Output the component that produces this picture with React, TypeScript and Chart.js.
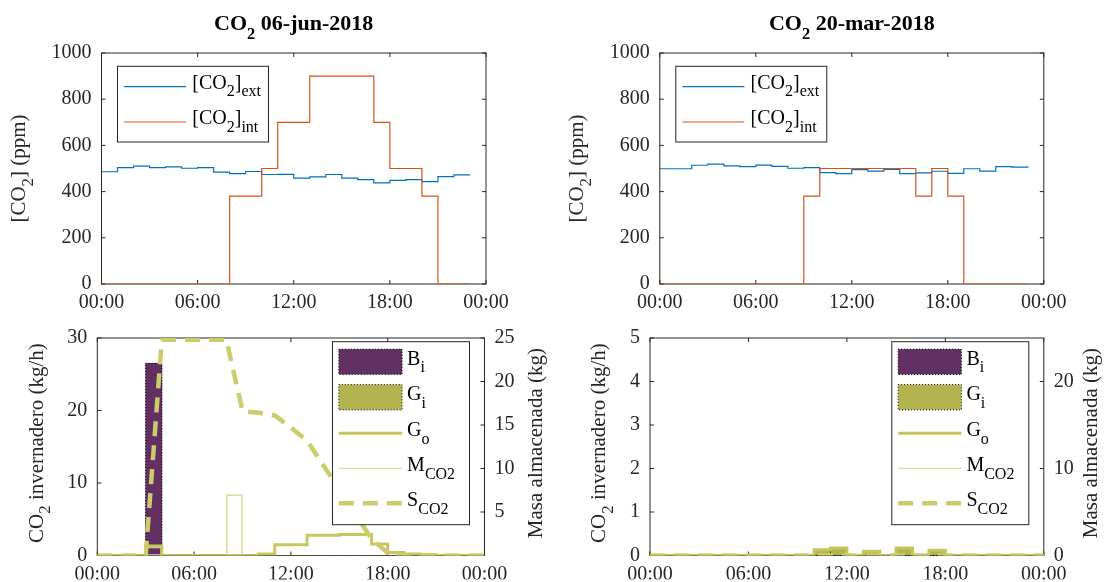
import React, { useEffect, useRef } from 'react';
import { Chart, registerables } from 'chart.js';

Chart.register(...registerables);

// ---------------- data ----------------
const hoursTop = [0, 1, 2, 3, 4, 5, 6, 7, 8, 9, 10, 11, 12, 13, 14, 15, 16, 17, 18, 19, 20, 21, 22, 23];
const hoursBottom = [0, 1, 2, 3, 4, 5, 6, 7, 8, 9, 10, 11, 12, 13, 14, 15, 16, 17, 18, 19, 20, 21, 22, 23, 24];
const timeTicks = [0, 6, 12, 18, 24];
const timeLabels = ['00:00', '06:00', '12:00', '18:00', '00:00'];
const ppmTicks = [0, 200, 400, 600, 800, 1000];

const co2ExtJun = [486, 504, 510, 504, 507, 501, 504, 484, 478, 487, 474, 475, 458, 464, 474, 458, 452, 438, 449, 452, 443, 465, 472, 472];
const co2IntJun = [0, 0, 0, 0, 0, 0, 0, 0, 380, 380, 500, 700, 700, 900, 900, 900, 900, 700, 500, 500, 380, 0, 0, 0];
const co2ExtMar = [499, 499, 514, 519, 511, 508, 515, 509, 501, 504, 482, 478, 495, 489, 496, 478, 481, 488, 479, 499, 489, 508, 506, 510];
const co2IntMar = [0, 0, 0, 0, 0, 0, 0, 0, 0, 380, 500, 500, 500, 500, 500, 500, 380, 500, 380, 0, 0, 0, 0, 0];

const flowTicksJun = [0, 10, 20, 30];
const massTicksJun = [5, 10, 15, 20, 25];
const biJun = [0, 0, 0, 26.5, 0, 0, 0, 0, 0, 0, 0, 0, 0, 0, 0, 0, 0, 0, 0, 0, 0, 0, 0, 0];
const giJun = [0, 0, 0, 0, 0, 0, 0, 0, 0, 0, 0, 0, 0, 0, 0, 0, 0, 0, 0, 0, 0, 0, 0, 0];
const mJun = [0, 0, 0, 1.2, 0, 0, 0, 0, 8.4, 0, 0, 0, 0, 0, 0, 0, 0, 0, 0, 0, 0, 0, 0, 0];
const goJun = [0, 0, 0, 1.3, 0, 0, 0, 0, 0, 0, 0.2, 1.5, 1.5, 2.8, 2.8, 2.9, 2.9, 1.6, 0.4, 0.2, 0.1, 0, 0, 0, 0];
const sJun = [0, 0, 0, 0, 24.8, 24.8, 24.8, 24.8, 24.8, 16.6, 16.4, 16.1, 14.7, 13.2, 10.4, 7.6, 4.7, 1.9, 0.3, 0, 0, 0, 0, 0, 0];

const flowTicksMar = [0, 1, 2, 3, 4, 5];
const massTicksMar = [0, 10, 20];
const biMar = [0, 0, 0, 0, 0, 0, 0, 0, 0, 0, 0, 0, 0, 0, 0, 0, 0, 0, 0, 0, 0, 0, 0, 0];
const giMar = [0, 0, 0, 0, 0, 0, 0, 0, 0, 0, 0.13, 0.17, 0, 0.1, 0, 0.17, 0, 0.12, 0, 0, 0, 0, 0, 0];
const mMar = [0, 0, 0, 0, 0, 0, 0, 0, 0, 0, 0, 0, 0, 0, 0, 0, 0, 0, 0, 0, 0, 0, 0, 0];
const goMar = [0, 0, 0, 0, 0, 0, 0, 0, 0, 0, 0.13, 0.17, 0, 0.1, 0, 0.17, 0, 0.12, 0, 0, 0, 0, 0, 0, 0];
const sMar = [0, 0, 0, 0, 0, 0, 0, 0, 0, 0, 0, 0, 0, 0, 0, 0, 0, 0, 0, 0, 0, 0, 0, 0, 0];

// ---------------- styles ----------------
const FONT = '"Liberation Serif", "Times New Roman", serif';
const AX = '#262626';
const BLUE = '#0072BD';
const ORANGE = '#D95319';
const PURPLE = '#623062';
const OLIVE_FILL = '#b3b34f';
const OLIVE_LINE = '#c6c65e';
const OLIVE_DASH = '#cccc6c';
const OLIVE_THIN = '#dcdca2';
const TICK = 4;
const YW = 60;
const Y2W = 40;
const XH = 24;

type Seg = { t: string; s?: number };

function fontStr(size: number, bold: boolean) {
  return `${bold ? 'bold ' : ''}${size}px ${FONT}`;
}
function measureRich(ctx: any, segs: Seg[], size: number, bold: boolean, subRatio: number) {
  let w = 0;
  for (const sg of segs) {
    ctx.font = fontStr(sg.s ? size * subRatio : size, bold);
    w += ctx.measureText(sg.t).width;
  }
  return w;
}
function drawRich(ctx: any, segs: Seg[], x: number, y: number, size: number, opt: any) {
  const bold = !!opt.bold;
  const subRatio = opt.subRatio ?? 0.8;
  const drop = opt.drop ?? 0.38;
  let cx = x;
  if (opt.align === 'center') cx -= measureRich(ctx, segs, size, bold, subRatio) / 2;
  ctx.fillStyle = opt.color || '#000';
  ctx.textBaseline = 'alphabetic';
  ctx.textAlign = 'left';
  for (const sg of segs) {
    const fs = sg.s ? size * subRatio : size;
    ctx.font = fontStr(fs, bold);
    ctx.fillText(sg.t, cx, y + (sg.s ? size * drop : 0));
    cx += ctx.measureText(sg.t).width;
  }
}

function makeDeco(spec: any) {
  return {
    id: 'deco',
    beforeDatasetsDraw(chart: any) {
      const ctx = chart.ctx;
      const { left, right, top, bottom } = chart.chartArea;
      ctx.save();
      ctx.strokeStyle = AX;
      ctx.lineWidth = 1;
      ctx.strokeRect(left, top, right - left, bottom - top);
      ctx.beginPath();
      const xs = chart.scales.x;
      for (const v of timeTicks) {
        const px = xs.getPixelForValue(v);
        ctx.moveTo(px, bottom); ctx.lineTo(px, bottom - TICK);
        ctx.moveTo(px, top); ctx.lineTo(px, top + TICK);
      }
      const ys = chart.scales.y;
      for (const v of spec.yTicks) {
        const py = ys.getPixelForValue(v);
        ctx.moveTo(left, py); ctx.lineTo(left + TICK, py);
        if (!spec.y2Ticks) { ctx.moveTo(right, py); ctx.lineTo(right - TICK, py); }
      }
      if (spec.y2Ticks) {
        const y2 = chart.scales.y2;
        for (const v of spec.y2Ticks) {
          const py = y2.getPixelForValue(v);
          ctx.moveTo(right, py); ctx.lineTo(right - TICK, py);
        }
      }
      ctx.stroke();
      ctx.restore();
    },
    afterDatasetDraw(chart: any, args: any) {
      const ds = chart.data.datasets[args.index];
      if (!ds.dottedEdge) return;
      const ctx = chart.ctx;
      ctx.save();
      ctx.strokeStyle = '#000';
      ctx.lineWidth = 1;
      ctx.setLineDash([1, 2]);
      for (const el of args.meta.data) {
        const p = el.getProps(['x', 'y', 'base', 'width'], true);
        if (Math.abs(p.base - p.y) < 0.5) continue;
        ctx.strokeRect(p.x - p.width / 2, p.y, p.width, p.base - p.y);
      }
      ctx.restore();
    },
    afterDraw(chart: any) {
      const ctx = chart.ctx;
      ctx.save();
      ctx.translate(-spec.ox, -spec.oy);
      if (spec.title) drawRich(ctx, spec.title, spec.titleX, 30, 22, { bold: true, align: 'center', color: '#000', subRatio: 0.75, drop: 0.4 });
      const cyMid = (spec.area.t + spec.area.b) / 2;
      ctx.save();
      ctx.translate(spec.yTitleX, cyMid);
      ctx.rotate(-Math.PI / 2);
      drawRich(ctx, spec.yTitle, 0, 0, 21, { align: 'center', color: AX });
      ctx.restore();
      if (spec.y2Title) {
        ctx.save();
        ctx.translate(spec.y2TitleX, cyMid);
        ctx.rotate(-Math.PI / 2);
        drawRich(ctx, spec.y2Title, 0, 0, 21, { align: 'center', color: AX });
        ctx.restore();
      }
      // legend
      const lg = spec.legend;
      ctx.fillStyle = '#fff';
      ctx.fillRect(lg.x, lg.y, lg.w, lg.h);
      ctx.strokeStyle = AX;
      ctx.lineWidth = 1;
      ctx.setLineDash([]);
      ctx.strokeRect(lg.x, lg.y, lg.w, lg.h);
      lg.items.forEach((it: any, i: number) => {
        const cy = lg.y + lg.rows[i];
        const x0 = lg.x + lg.symX0;
        const x1 = lg.x + lg.symX1;
        if (it.kind === 'rect') {
          ctx.fillStyle = it.color;
          ctx.fillRect(x0, cy - 12.6, x1 - x0, 25.3);
          ctx.strokeStyle = '#000';
          ctx.lineWidth = 1;
          ctx.setLineDash([1, 2]);
          ctx.strokeRect(x0, cy - 12.6, x1 - x0, 25.3);
          ctx.setLineDash([]);
        } else {
          ctx.strokeStyle = it.color;
          ctx.lineWidth = it.width;
          ctx.setLineDash(it.dash || []);
          ctx.beginPath();
          ctx.moveTo(x0, cy);
          ctx.lineTo(x1, cy);
          ctx.stroke();
          ctx.setLineDash([]);
        }
        drawRich(ctx, it.label, lg.x + lg.textX, cy + lg.base, 20, { color: '#000' });
      });
      ctx.restore();
    },
  };
}

function xScale() {
  return {
    type: 'linear',
    min: 0,
    max: 24,
    offset: false,
    grid: { display: false, drawTicks: false },
    border: { display: false },
    ticks: {
      autoSkip: false,
      maxRotation: 0,
      padding: 7,
      color: AX,
      font: { family: FONT, size: 20 },
      callback: (v: number) => timeLabels[timeTicks.indexOf(v)] ?? '',
    },
    afterBuildTicks: (s: any) => { s.ticks = timeTicks.map((v) => ({ value: v })); },
    afterFit: (s: any) => { s.height = XH; },
  };
}

function yScale(ticks: number[], min: number, max: number, pos: string, width: number) {
  return {
    type: 'linear',
    position: pos,
    min,
    max,
    grid: { display: false, drawTicks: false },
    border: { display: false },
    ticks: {
      padding: 10,
      color: AX,
      font: { family: FONT, size: 20 },
      callback: (v: number) => String(v),
    },
    afterBuildTicks: (s: any) => { s.ticks = ticks.map((v) => ({ value: v })); },
    afterFit: (s: any) => { s.width = width; },
  };
}

function padding(spec: any, hasY2: boolean) {
  return {
    left: spec.area.l - spec.ox - YW,
    top: spec.area.t - spec.oy,
    right: spec.ox + spec.w - spec.area.r - (hasY2 ? Y2W : 0),
    bottom: spec.oy + spec.h - spec.area.b - XH,
  };
}

const extLabel: Seg[] = [{ t: '[CO' }, { t: '2', s: 1 }, { t: ']' }, { t: 'ext', s: 1 }];
const intLabel: Seg[] = [{ t: '[CO' }, { t: '2', s: 1 }, { t: ']' }, { t: 'int', s: 1 }];

function topSpec(ox: number, area: any, title: Seg[], titleX: number, yTitleX: number) {
  return {
    ox, oy: 0, w: 553, h: 316, area, title, titleX, yTitleX,
    yTitle: [{ t: '[CO' }, { t: '2', s: 1 }, { t: '] (ppm)' }],
    yTicks: ppmTicks,
    legend: {
      x: area.l + 16, y: area.t + 13.3, w: 151, h: 75.7,
      rows: [20.3, 55.7], symX0: 6.6, symX1: 68.6, textX: 74.8, base: 2,
      items: [
        { kind: 'line', color: BLUE, width: 1.2, label: extLabel },
        { kind: 'line', color: ORANGE, width: 1.2, label: intLabel },
      ],
    },
  };
}

function bottomSpec(ox: number, area: any, yTitleX: number, y2TitleX: number, yTicks: number[], y2Ticks: number[]) {
  return {
    ox, oy: 316, w: 553, h: 266, area, yTitleX, y2TitleX,
    yTitle: [{ t: 'CO' }, { t: '2', s: 1 }, { t: ' invernadero (kg/h)' }],
    y2Title: [{ t: 'Masa almacenada (kg)' }],
    yTicks, y2Ticks,
    legend: {
      x: area.r - 15 - 137, y: area.t + 11, w: 137, h: 183,
      rows: [20, 55.5, 91.6, 126.6, 161.6], symX0: 6.3, symX1: 69.6, textX: 74.6, base: 3,
      items: [
        { kind: 'rect', color: PURPLE, label: [{ t: 'B' }, { t: 'i', s: 1 }] },
        { kind: 'rect', color: OLIVE_FILL, label: [{ t: 'G' }, { t: 'i', s: 1 }] },
        { kind: 'line', color: OLIVE_LINE, width: 3, label: [{ t: 'G' }, { t: 'o', s: 1 }] },
        { kind: 'line', color: OLIVE_THIN, width: 1.2, label: [{ t: 'M' }, { t: 'CO2', s: 1 }] },
        { kind: 'line', color: OLIVE_DASH, width: 4.5, dash: [15, 9], label: [{ t: 'S' }, { t: 'CO2', s: 1 }] },
      ],
    },
  };
}

function topConfig(spec: any, ext: number[], int: number[]) {
  return {
    type: 'line',
    data: {
      datasets: [
        { label: 'ext', data: hoursTop.map((h, i) => ({ x: h, y: ext[i] })), borderColor: BLUE, borderWidth: 1.2, stepped: true, pointRadius: 0, fill: false, order: 2 },
        { label: 'int', data: hoursTop.map((h, i) => ({ x: h, y: int[i] })), borderColor: ORANGE, borderWidth: 1.2, stepped: true, pointRadius: 0, fill: false, order: 1 },
      ],
    },
    options: {
      responsive: false,
      animation: false,
      events: [],
      layout: { padding: padding(spec, false) },
      plugins: { legend: { display: false }, tooltip: { enabled: false } },
      scales: { x: xScale(), y: yScale(ppmTicks, 0, 1000, 'left', YW) },
    },
    plugins: [makeDeco(spec)],
  };
}

function bars(vals: number[]) {
  return hoursTop.map((h, i) => ({ x: h + 0.5, y: vals[i] }));
}
function pts(vals: number[]) {
  return hoursBottom.map((h, i) => ({ x: h, y: vals[i] }));
}

function bottomConfig(spec: any, bi: number[], gi: number[], m: number[], go: number[], s: number[], yMax: number) {
  const barCommon = { grouped: false, barPercentage: 1, categoryPercentage: 1, yAxisID: 'y', borderWidth: 0 };
  return {
    type: 'line',
    data: {
      datasets: [
        { ...barCommon, type: 'bar', label: 'Bi', data: bars(bi), backgroundColor: PURPLE, order: 6, dottedEdge: true },
        { ...barCommon, type: 'bar', label: 'Gi', data: bars(gi), backgroundColor: OLIVE_FILL, order: 5, dottedEdge: true },
        { ...barCommon, type: 'bar', label: 'M', data: bars(m), backgroundColor: 'rgba(0,0,0,0)', borderColor: OLIVE_THIN, borderWidth: 1, borderSkipped: false, order: 4 },
        { type: 'line', label: 'Go', data: pts(go), borderColor: OLIVE_LINE, borderWidth: 3, stepped: true, pointRadius: 0, fill: false, yAxisID: 'y', order: 3 },
        { type: 'line', label: 'S', data: pts(s), borderColor: OLIVE_DASH, borderWidth: 4.5, borderDash: [15, 9], pointRadius: 0, fill: false, yAxisID: 'y2', order: 1 },
      ],
    },
    options: {
      responsive: false,
      animation: false,
      events: [],
      layout: { padding: padding(spec, true) },
      plugins: { legend: { display: false }, tooltip: { enabled: false } },
      scales: {
        x: xScale(),
        y: yScale(spec.yTicks, 0, yMax, 'left', YW),
        y2: yScale(spec.y2Ticks, 0, 25, 'right', Y2W),
      },
    },
    plugins: [makeDeco(spec)],
  };
}

const specTL = topSpec(0, { l: 101.5, t: 53, r: 486, b: 284 }, [{ t: 'CO' }, { t: '2', s: 1 }, { t: ' 06-jun-2018' }], 293.7, 25);
const specTR = topSpec(553, { l: 659.8, t: 53, r: 1043.8, b: 284 }, [{ t: 'CO' }, { t: '2', s: 1 }, { t: ' 20-mar-2018' }], 851.8, 583);
const specBL = bottomSpec(0, { l: 97.3, t: 330.7, r: 484.5, b: 555.5 }, 42.5, 541.5, flowTicksJun, massTicksJun);
const specBR = bottomSpec(553, { l: 650, t: 330.7, r: 1043.8, b: 555.5 }, 605, 1097, flowTicksMar, massTicksMar);

export default function App() {
  const r1 = useRef<HTMLCanvasElement>(null);
  const r2 = useRef<HTMLCanvasElement>(null);
  const r3 = useRef<HTMLCanvasElement>(null);
  const r4 = useRef<HTMLCanvasElement>(null);

  useEffect(() => {
    const charts = [
      new Chart(r1.current as any, topConfig(specTL, co2ExtJun, co2IntJun) as any),
      new Chart(r2.current as any, topConfig(specTR, co2ExtMar, co2IntMar) as any),
      new Chart(r3.current as any, bottomConfig(specBL, biJun, giJun, mJun, goJun, sJun, 30) as any),
      new Chart(r4.current as any, bottomConfig(specBR, biMar, giMar, mMar, goMar, sMar, 5) as any),
    ];
    return () => charts.forEach((c) => c.destroy());
  }, []);

  const cs = (x: number, y: number, w: number, h: number): any => ({ position: 'absolute', left: x, top: y, width: w, height: h });
  return (
    <div style={{ position: 'absolute', left: 0, top: 0, width: 1106, height: 582, background: '#fff' }}>
      <canvas ref={r1} width={553} height={316} style={cs(0, 0, 553, 316)} />
      <canvas ref={r2} width={553} height={316} style={cs(553, 0, 553, 316)} />
      <canvas ref={r3} width={553} height={266} style={cs(0, 316, 553, 266)} />
      <canvas ref={r4} width={553} height={266} style={cs(553, 316, 553, 266)} />
    </div>
  );
}
